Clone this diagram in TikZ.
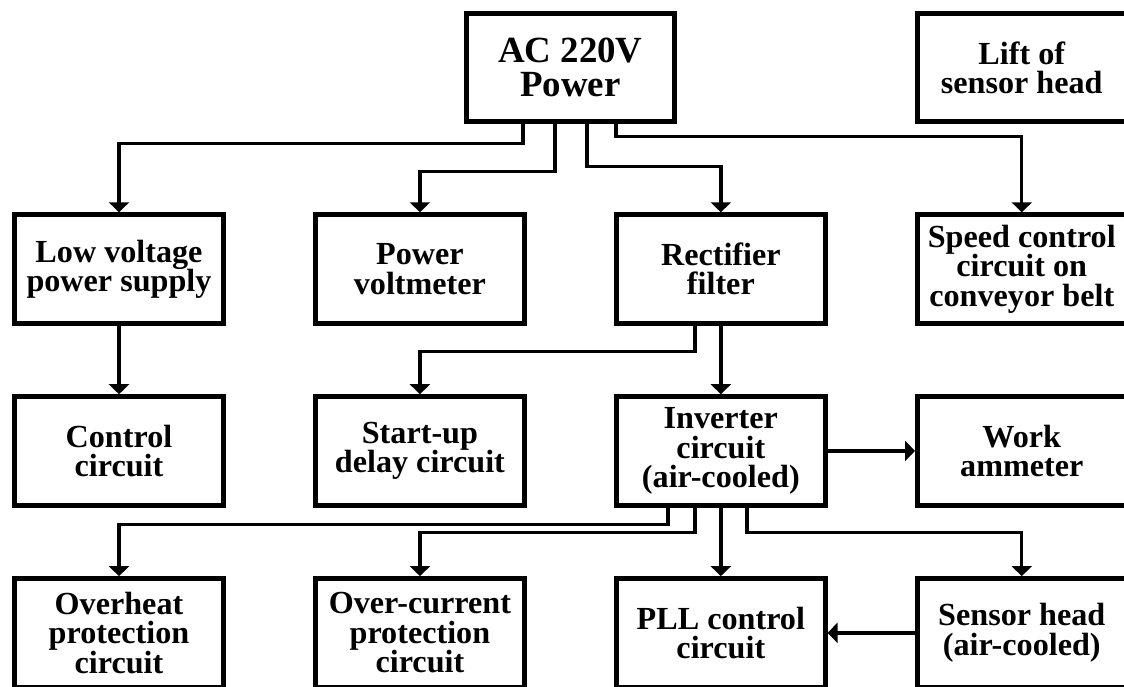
\documentclass[tikz,border=0pt]{standalone}
\usepackage{fontspec}
\setmainfont{Liberation Serif}
\usetikzlibrary{arrows.meta,positioning,calc}
\lineskiplimit=-20pt

\begin{document}
\begin{tikzpicture}[
  node distance=13.7mm and 17.5mm,
  box/.style={draw,line width=2.8pt,minimum width=41.7mm,minimum height=21.7mm,inner sep=1pt,align=center,font=\bfseries\fontsize{18.3}{16.7}\selectfont},
  bigbox/.style={box,font=\bfseries\fontsize{21}{19.6}\selectfont},
  link/.style={line width=1.9pt,-{Triangle[width=4mm,length=2mm]}}
]
  \useasboundingbox (0,0) rectangle (22.48,-13.74);

  \node[box] (lowvolt) at (2.38,-5.38) {Low voltage\\power supply};
  \node[box,right=of lowvolt] (voltmeter) {Power\\voltmeter};
  \node[box,right=of voltmeter] (rectifier) {Rectifier\\filter};
  \node[box,right=of rectifier] (speedctl) {Speed control\\circuit on\\conveyor belt};
  \node[box,below=of lowvolt] (control) {Control\\circuit};
  \node[box,below=of voltmeter] (startup) {Start-up\\delay circuit};
  \node[box,below=of rectifier] (inverter) {Inverter\\circuit\\(air-cooled)};
  \node[box,below=of speedctl] (ammeter) {Work\\ammeter};
  \node[box,below=of control] (overheat) {Overheat\\protection\\circuit};
  \node[box,below=of startup] (overcur) {Over-current\\protection\\circuit};
  \node[box,below=of inverter] (pll) {PLL control\\circuit};
  \node[box,below=of ammeter] (sensor) {Sensor head\\(air-cooled)};
  \coordinate (mid) at ($(voltmeter.north)!.5!(rectifier.north)$);
  \node[bigbox,above=17.6mm of mid] (acpower) {AC 220V\\Power};
  \node[box,above=17.6mm of speedctl] (lift) {Lift of\\sensor head};

  \draw[link] ([xshift=-9.5mm]acpower.south) -- ++(0,-3.8mm) -| (lowvolt);
  \draw[link] ([xshift=-3.1mm]acpower.south) -- ++(0,-9.4mm) -| (voltmeter);
  \draw[link] ([xshift=3.3mm]acpower.south) -- ++(0,-8.4mm) -| (rectifier);
  \draw[link] ([xshift=9.1mm]acpower.south) -- ++(0,-2.4mm) -| (speedctl);
  \draw[link] (lowvolt) -- (control);
  \draw[link] ([xshift=-5.2mm]rectifier.south) -- ++(0,-5.2mm) -| (startup);
  \draw[link] (rectifier) -- (inverter);
  \draw[link] (inverter) -- (ammeter);
  \draw[link] ([xshift=-10.6mm]inverter.south) -- ++(0,-3.4mm) -| (overheat);
  \draw[link] ([xshift=-5.2mm]inverter.south) -- ++(0,-5mm) -| (overcur);
  \draw[link] (inverter) -- (pll);
  \draw[link] ([xshift=5.2mm]inverter.south) -- ++(0,-5mm) -| (sensor);
  \draw[link] (sensor) -- (pll);
\end{tikzpicture}
\end{document}
